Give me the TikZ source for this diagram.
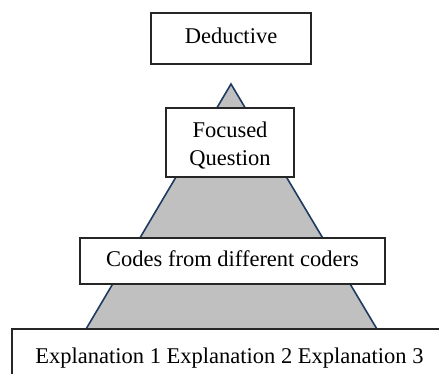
\documentclass[tikz,border=0pt]{standalone}
\usepackage{fontspec}
\setmainfont{Liberation Serif}
\definecolor{navyedge}{HTML}{1F3A60}
\definecolor{trifill}{HTML}{C0C0C0}
\definecolor{boxline}{HTML}{262626}
\begin{document}
\begin{tikzpicture}[x=1pt,y=-1pt,
  labelbox/.style={draw=boxline,line width=1.1pt,fill=white,inner sep=0pt,
    align=center,font=\fontsize{22.5}{28}\selectfont},
  oneline/.style={text height=15.75pt,text depth=5.6pt}]
\useasboundingbox (0,0) rectangle (439,373);
\coordinate (apex) at (231,84);
\coordinate (bl) at (82.5,335);
\coordinate (br) at (380.5,335);
\fill[trifill] (apex) -- (bl) -- (br) -- cycle;
\draw[navyedge,line width=1.6pt,line join=miter] (bl) -- (apex) -- (br);
\node[labelbox,oneline,minimum width=160pt,minimum height=51pt] (ded) at (231,38.5) {Deductive};
\node[labelbox,minimum width=128pt,minimum height=69pt] (foc) at (230,142.5) {\rule{0pt}{21.5pt}Focused\\Question};
\node[labelbox,oneline,minimum width=305pt,minimum height=46pt] (codes) at (232.5,261) {Codes from different coders};
\node[labelbox,oneline,minimum width=435pt,minimum height=58pt] (expl) at (229.5,358) {Explanation 1 Explanation 2 Explanation 3};
\end{tikzpicture}
\end{document}
